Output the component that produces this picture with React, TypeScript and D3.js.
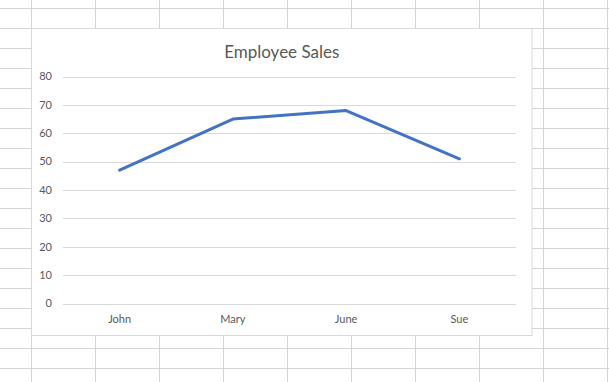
import React from "react";
import * as d3 from "d3";

const categories = ["John", "Mary", "June", "Sue"];
const sales = [47, 65, 68, 51];
const yTicks = [0, 10, 20, 30, 40, 50, 60, 70, 80];
const title = "Employee Sales";

const W = 609;
const H = 382;
const chart = { x: 31.5, y: 28.5, w: 500.5, h: 307 };
const plot = { left: 63, right: 516, top: 76.5, bottom: 303.5 };
const FONT = "Lato, 'Open Sans', sans-serif";

export default function App() {
  const x = d3.scaleBand<string>().domain(categories).range([plot.left, plot.right]);
  const y = d3.scaleLinear().domain([0, 80]).range([plot.bottom, plot.top]);
  const line = d3
    .line<number>()
    .x((_, i) => (x(categories[i]) as number) + x.bandwidth() / 2)
    .y((d) => y(d));

  const colLines = d3.range(31.5, W, 64);
  const rowLines = d3.range(8.5, H, 20);

  return (
    <svg
      width={W}
      height={H}
      style={{ position: "absolute", left: 0, top: 0, background: "#fff" }}
    >
      {/* spreadsheet grid */}
      {rowLines.map((ry) => (
        <line key={"r" + ry} x1={0} x2={W} y1={ry} y2={ry} stroke="#d4d4d4" strokeWidth={1} />
      ))}
      {colLines.map((cx) => (
        <line key={"c" + cx} x1={cx} x2={cx} y1={0} y2={H} stroke="#d4d4d4" strokeWidth={1} />
      ))}
      {/* chart area */}
      <rect x={chart.x} y={chart.y} width={chart.w} height={chart.h} fill="#fff" stroke="#d9d9d9" strokeWidth={1} />
      <text
        x={chart.x + chart.w / 2}
        y={57.5}
        textAnchor="middle"
        fontFamily={FONT}
        fontSize={17}
        fill="#595959"
      >
        {title}
      </text>
      {yTicks.map((t) => (
        <g key={t}>
          <line x1={plot.left} x2={plot.right} y1={Math.round(y(t)) + 0.5} y2={Math.round(y(t)) + 0.5} stroke="#d9d9d9" strokeWidth={1} />
          <text x={52} y={y(t) + 3.8} textAnchor="end" fontFamily={FONT} fontSize={11} fill="#595959">
            {t}
          </text>
        </g>
      ))}
      {categories.map((c) => (
        <text
          key={c}
          x={(x(c) as number) + x.bandwidth() / 2}
          y={323}
          textAnchor="middle"
          fontFamily={FONT}
          fontSize={11}
          fill="#595959"
        >
          {c}
        </text>
      ))}
      <path d={line(sales) || ""} fill="none" stroke="#4472c4" strokeWidth={3} strokeLinejoin="round" strokeLinecap="round" />
    </svg>
  );
}
